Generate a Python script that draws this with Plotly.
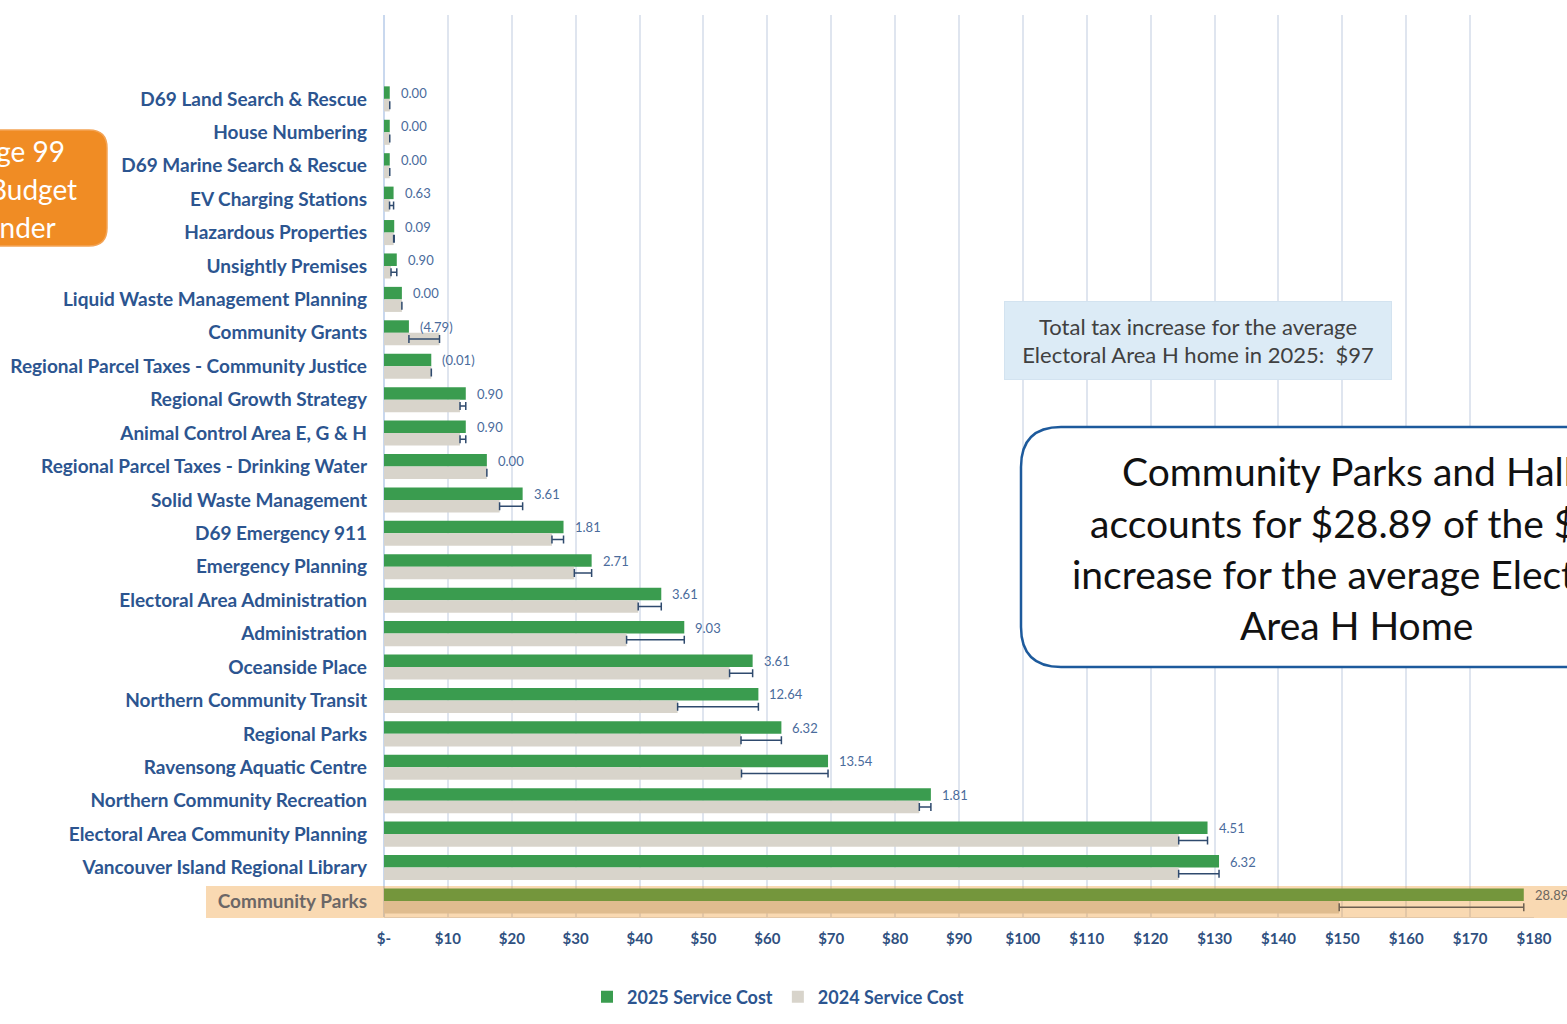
import plotly.graph_objects as go

# Services, listed top to bottom
categories = [
    "D69 Land Search & Rescue",
    "House Numbering",
    "D69 Marine Search & Rescue",
    "EV Charging Stations",
    "Hazardous Properties",
    "Unsightly Premises",
    "Liquid Waste Management Planning",
    "Community Grants",
    "Regional Parcel Taxes - Community Justice",
    "Regional Growth Strategy",
    "Animal Control Area E, G & H",
    "Regional Parcel Taxes - Drinking Water",
    "Solid Waste Management",
    "D69 Emergency 911",
    "Emergency Planning",
    "Electoral Area Administration",
    "Administration",
    "Oceanside Place",
    "Northern Community Transit",
    "Regional Parks",
    "Ravensong Aquatic Centre",
    "Northern Community Recreation",
    "Electoral Area Community Planning",
    "Vancouver Island Regional Library",
    "Community Parks",
]

# 2025 service cost per average Electoral Area H home ($)
cost_2025 = [0.9, 0.9, 0.9, 1.5, 1.6, 2.0, 2.8, 3.9, 7.4, 12.8, 12.8, 16.1, 21.7,
             28.1, 32.5, 43.4, 47.0, 57.7, 58.6, 62.2, 69.5, 85.6, 128.9, 130.7, 178.4]

# Change from 2024 to 2025 ($)
change = [0.00, 0.00, 0.00, 0.63, 0.09, 0.90, 0.00, -4.79, -0.01, 0.90, 0.90, 0.00, 3.61,
          1.81, 2.71, 3.61, 9.03, 3.61, 12.64, 6.32, 13.54, 1.81, 4.51, 6.32, 28.89]

cost_2024 = [round(c - d, 2) for c, d in zip(cost_2025, change)]

x_ticks = list(range(0, 190, 10))
x_ticktext = ["$-"] + [f"${v}" for v in x_ticks[1:]]

highlight = "Community Parks"

GREEN = "#3a9c4f"
GREY = "#d8d4cb"
LABEL_BLUE = "#2c5590"
VALUE_BLUE = "#4a6b9c"

W, H = 1567, 1024
L, R, T, B = 384, 33, 15, 107
PW, PH = W - L - R, H - T - B


def xp(px):
    return (px - L) / PW


def yp(py):
    return (H - B - py) / PH


def rounded_rect(x0, y0, x1, y1, r):
    """SVG path in paper coordinates for a rounded rectangle given in pixels."""
    pts = [
        f"M {xp(x0 + r)} {yp(y0)}",
        f"L {xp(x1 - r)} {yp(y0)}",
        f"Q {xp(x1)} {yp(y0)} {xp(x1)} {yp(y0 + r)}",
        f"L {xp(x1)} {yp(y1 - r)}",
        f"Q {xp(x1)} {yp(y1)} {xp(x1 - r)} {yp(y1)}",
        f"L {xp(x0 + r)} {yp(y1)}",
        f"Q {xp(x0)} {yp(y1)} {xp(x0)} {yp(y1 - r)}",
        f"L {xp(x0)} {yp(y0 + r)}",
        f"Q {xp(x0)} {yp(y0)} {xp(x0 + r)} {yp(y0)}",
        "Z",
    ]
    return " ".join(pts)


def fmt_change(v):
    return f"({abs(v):.2f})" if v < 0 else f"{v:.2f}"


err_plus = [max(d, 0) for d in change]
err_minus = [max(-d, 0) for d in change]

fig = go.Figure()
fig.add_trace(go.Bar(
    y=categories, x=cost_2025, orientation="h", name="2025 Service Cost",
    marker=dict(color=GREEN, line=dict(width=0)),
))
fig.add_trace(go.Bar(
    y=categories, x=cost_2024, orientation="h", name="2024 Service Cost",
    marker=dict(color=GREY, line=dict(width=0)),
    error_x=dict(type="data", symmetric=False, array=err_plus, arrayminus=err_minus,
                 color="#2f4a6e", thickness=1.5, width=4),
))

annotations = []
for cat, v, d in zip(categories, cost_2025, change):
    annotations.append(dict(
        x=v, y=cat, xref="x", yref="y", text=fmt_change(d), showarrow=False,
        xanchor="left", yanchor="middle", xshift=9, yshift=6,
        font=dict(family="Lato", size=13,
                  color="#6b6660" if cat == highlight else VALUE_BLUE),
    ))

# Total increase note
annotations.append(dict(
    x=xp(1198), y=yp(340.5), xref="paper", yref="paper",
    text="Total tax increase for the average<br>Electoral Area H home in 2025:  $97",
    showarrow=False, xanchor="center", yanchor="middle", align="center",
    width=378, height=69, borderpad=4, bgcolor="#dcebf6", bordercolor="#d3e3f0",
    borderwidth=1, font=dict(family="Lato", size=22, color="#404040"),
))

# Callout lines
callout = [
    "Community Parks and Halls",
    "accounts for $28.89 of the $97",
    "increase for the average Electoral",
    "Area H Home",
]
for line, cy in zip(callout, [471, 523, 574, 625]):
    annotations.append(dict(
        x=xp(1356), y=yp(cy), xref="paper", yref="paper", text=line,
        showarrow=False, xanchor="center", yanchor="middle",
        font=dict(family="Lato", size=39, color="#111111"),
    ))

# Budget binder tab
for line, rx, cy in [("Page 99", 67, 151), ("Budget", 79, 189), ("Binder", 58, 227)]:
    annotations.append(dict(
        x=xp(rx), y=yp(cy), xref="paper", yref="paper", text=line,
        showarrow=False, xanchor="right", yanchor="middle",
        font=dict(family="Lato", size=28, color="#ffffff"),
    ))

shapes = [
    # highlight band over Community Parks row
    dict(type="rect", xref="paper", yref="paper", x0=xp(206), x1=xp(1580),
         y0=yp(918), y1=yp(886), fillcolor="rgba(237,140,20,0.33)",
         line=dict(width=0), layer="above"),
    # callout box
    dict(type="path", xref="paper", yref="paper",
         path=rounded_rect(1021, 427, 1720, 667, 40),
         fillcolor="#ffffff", line=dict(color="#1d5a9c", width=2.5), layer="above"),
    # binder tab
    dict(type="path", xref="paper", yref="paper",
         path=rounded_rect(-40, 130, 107, 246, 18),
         fillcolor="#f08c24", line=dict(color="#f3a456", width=1.5), layer="above"),
]

fig.update_layout(
    width=W, height=H, autosize=False,
    margin=dict(l=L, r=R, t=T, b=B, autoexpand=False),
    paper_bgcolor="#ffffff", plot_bgcolor="#ffffff",
    barmode="group", bargap=0.25, bargroupgap=0.0,
    font=dict(family="Lato", color=LABEL_BLUE),
    showlegend=True,
    legend=dict(orientation="h", x=xp(778), xanchor="center", y=yp(997), yanchor="middle",
                font=dict(family="Lato", size=18, color=LABEL_BLUE, weight="bold"),
                itemwidth=30, traceorder="normal"),
    annotations=annotations,
    shapes=shapes,
)

fig.update_xaxes(
    range=[0, 180], tickvals=x_ticks, ticktext=x_ticktext, automargin=False,
    showgrid=True, gridcolor="#dfe5ef", gridwidth=2,
    zeroline=True, zerolinecolor="#c9d8ee", zerolinewidth=2,
    showline=True, linecolor="#dfe5ef", linewidth=1,
    ticks="", ticklabelstandoff=8,
    tickfont=dict(family="Lato", size=15, color="#2f5080", weight="bold"),
)
fig.update_yaxes(
    type="category", categoryorder="array", categoryarray=categories, automargin=False,
    range=[24.48, -2.51], showgrid=False, zeroline=False, showline=False,
    ticks="", ticklabelstandoff=16,
    tickfont=dict(family="Lato", size=19, color=LABEL_BLUE, weight="bold"),
)

fig.write_html("out.html")
